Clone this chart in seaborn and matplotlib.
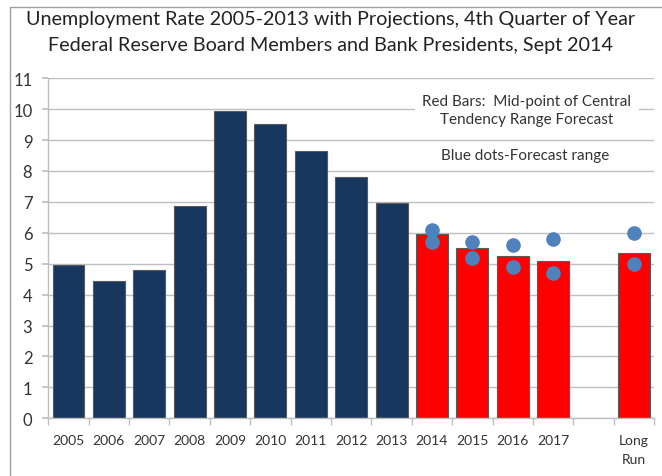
import numpy as np
import pandas as pd
import matplotlib
matplotlib.use("Agg")
import matplotlib.pyplot as plt
import seaborn as sns
from matplotlib.ticker import FixedLocator

# =============================
# DATA
# =============================
labels = ["2005", "2006", "2007", "2008", "2009", "2010", "2011", "2012", "2013",
          "2014", "2015", "2016", "2017", " ", "Long\nRun"]
rates = [4.97, 4.43, 4.80, 6.87, 9.93, 9.53, 8.63, 7.80, 6.97,
         5.95, 5.50, 5.25, 5.10, np.nan, 5.35]
kind = ["actual"] * 9 + ["projection"] * 4 + ["gap", "projection"]

# forecast range (blue dots)
range_labels = ["2014", "2014", "2015", "2015", "2016", "2016", "2017", "2017",
                "Long\nRun", "Long\nRun"]
range_values = [5.7, 6.1, 5.2, 5.7, 4.9, 5.6, 4.7, 5.8, 5.0, 6.0]

title_1 = "Unemployment Rate 2005-2013 with Projections, 4th Quarter of Year"
title_2 = "Federal Reserve Board Members and Bank Presidents, Sept 2014"
note_1 = "Red Bars:  Mid-point of Central\nTendency Range Forecast"
note_2 = "Blue dots-Forecast range"

NAVY = "#17375E"
RED = "#FF0000"
DOT = "#4F81BD"
GRID = "#BFBFBF"

sns.set_theme(style="white")
plt.rcParams["font.family"] = ["Lato", "DejaVu Sans"]

df = pd.DataFrame({"label": labels, "rate": rates, "kind": kind})
dots = pd.DataFrame({"label": range_labels, "value": range_values})

fig = plt.figure(figsize=(6.62, 4.77), dpi=100)
ax = fig.add_axes([0.073, 0.121, 0.915, 0.713])

sns.barplot(data=df, x="label", y="rate", hue="kind", order=labels,
            palette={"actual": NAVY, "projection": RED, "gap": "white"},
            saturation=1, dodge=False, width=0.79, edgecolor="#5A5A5A",
            linewidth=0.8, legend=False, ax=ax, zorder=2)

sns.stripplot(data=dots, x="label", y="value", order=labels, jitter=False,
              color=DOT, size=10.5, linewidth=0, ax=ax, zorder=4)

ax.set_xlim(-0.5, len(labels) - 0.5)
ax.set_ylim(0, 11)
ax.set_yticks(range(0, 12))
ax.yaxis.grid(True, color=GRID, lw=1)
ax.set_axisbelow(True)
ax.set_xlabel("")
ax.set_ylabel("")

for s in ["top", "right"]:
    ax.spines[s].set_visible(False)
for s in ["left", "bottom"]:
    ax.spines[s].set_color(GRID)
    ax.spines[s].set_linewidth(1)

ax.tick_params(axis="y", which="major", direction="out", length=4, color=GRID,
               labelsize=12, labelcolor="#333333", pad=7.5, left=True)
ax.tick_params(axis="x", which="major", length=0, labelsize=10,
               labelcolor="#333333", pad=11)
ax.xaxis.set_minor_locator(FixedLocator(np.arange(len(labels) + 1) - 0.5))
ax.tick_params(axis="x", which="minor", direction="out", length=5, color=GRID,
               bottom=True)
for t in ax.get_xticklabels():
    t.set_linespacing(1.75)
    t.set_verticalalignment("top")

# notes
ax.text(11.35, 9.97, note_1, ha="center", va="center", fontsize=11,
        color="#333333", linespacing=1.4, zorder=5,
        bbox=dict(boxstyle="square,pad=0.5", fc="white", ec="none"))
ax.text(11.3, 8.5, note_2, ha="center", va="center", fontsize=11,
        color="#333333", zorder=5,
        bbox=dict(boxstyle="square,pad=0.4", fc="white", ec="none"))

# titles
fig.text(0.5, 1 - 20 / 477, title_1, ha="center", va="center",
         fontsize=14.2, color="#222222")
fig.text(0.5, 1 - 46 / 477, title_2, ha="center", va="center",
         fontsize=14.2, color="#222222")

# chart frame (left and top edges)
fig.add_artist(plt.Line2D([10 / 662, 10 / 662], [0, 1 - 8 / 477],
                          transform=fig.transFigure, color="#A0A0A0", lw=1))
fig.add_artist(plt.Line2D([10 / 662, 1], [1 - 8 / 477, 1 - 8 / 477],
                          transform=fig.transFigure, color="#A0A0A0", lw=1))

fig.savefig("out.png", dpi=100, facecolor="white")
plt.close(fig)
